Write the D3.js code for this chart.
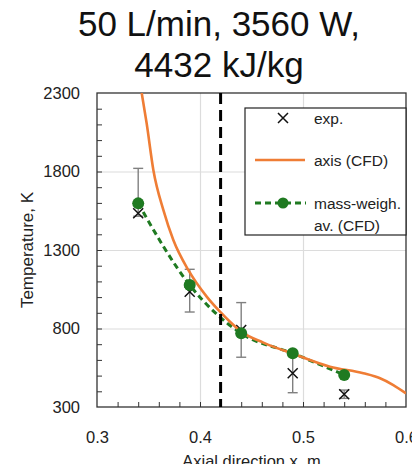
<!DOCTYPE html>
<html>
<head>
<meta charset="utf-8">
<script src="https://cdn.jsdelivr.net/npm/d3@7"></script>
<style>
  html, body { margin: 0; padding: 0; background: #fff; }
  svg { display: block; }
  text { font-family: "Liberation Sans", Arial, sans-serif; fill: #222; }
</style>
</head>
<body>
<svg id="chart" width="412" height="464"></svg>
<script>
// ---- data ----
const titleLines = ["50 L/min, 3560 W,", "4432 kJ/kg"];
const xTickValues = [0.3, 0.4, 0.5, 0.6];
const yTickValues = [300, 800, 1300, 1800, 2300];
const expX = [0.34, 0.39, 0.44, 0.49, 0.54];
const expT = [1534, 1034, 791, 515, 381];
const expErrHigh = [1820, 1177, 965, 643, 408];
const expErrLow = [1515, 905, 617, 391, 355];
const massX = [0.34, 0.39, 0.44, 0.49, 0.54];
const massT = [1597, 1077, 769, 642, 504];
const axisX = [0.3434, 0.3482, 0.3547, 0.3644, 0.3741, 0.3886, 0.4065, 0.4194, 0.4291, 0.44, 0.4615, 0.4939, 0.5262, 0.5586, 0.5748, 0.5877, 0.6];
const axisT = [2300, 2107, 1810, 1555, 1364, 1173, 1003, 907, 843, 780, 710, 631, 557, 515, 483, 440, 387];
const markerLineX = 0.42;
const legendLabels = ["exp.", "axis (CFD)", ["mass-weigh.", "av. (CFD)"]];
const xLabel = "Axial direction x, m";
const yLabel = "Temperature, K";

// ---- layout ----
const svg = d3.select("#chart");
const L = 97, R = 406, T = 93, B = 407;
const x = d3.scaleLinear().domain([0.3, 0.6]).range([L, R]);
const y = d3.scaleLinear().domain([300, 2300]).range([B, T]);
const orange = "#EF7D35", green = "#1F7A21";

// title
svg.append("g").selectAll("text").data(titleLines).join("text")
  .attr("x", 219).attr("y", (d, i) => 36 + i * 41)
  .attr("text-anchor", "middle").style("font-size", "35px").style("fill", "#111")
  .text(d => d);

// clip
svg.append("defs").append("clipPath").attr("id", "clip")
  .append("rect").attr("x", L).attr("y", T).attr("width", R - L).attr("height", B - T);

// grid
svg.append("g").attr("transform", `translate(0,${B})`)
  .call(d3.axisBottom(x).tickValues([0.4, 0.5]).tickSize(-(B - T)).tickFormat(""))
  .call(g => g.select(".domain").remove())
  .call(g => g.selectAll("line").attr("stroke", "#dcdcdc").attr("stroke-width", 1.2));
svg.append("g").attr("transform", `translate(${L},0)`)
  .call(d3.axisLeft(y).tickValues([800, 1300, 1800]).tickSize(-(R - L)).tickFormat(""))
  .call(g => g.select(".domain").remove())
  .call(g => g.selectAll("line").attr("stroke", "#dcdcdc").attr("stroke-width", 1.2));

// minor ticks (inward)
const xMinor = d3.range(0.32, 0.6, 0.02);
const yMinor = d3.range(400, 2300, 100);
svg.append("g").attr("transform", `translate(0,${B})`)
  .call(d3.axisBottom(x).tickValues(xMinor).tickSize(-5).tickFormat(""))
  .call(g => g.select(".domain").remove())
  .call(g => g.selectAll("line").attr("stroke", "#333"));
svg.append("g").attr("transform", `translate(${L},0)`)
  .call(d3.axisLeft(y).tickValues(yMinor).tickSize(-5).tickFormat(""))
  .call(g => g.select(".domain").remove())
  .call(g => g.selectAll("line").attr("stroke", "#333"));

// major axes with labels
svg.append("g").attr("transform", `translate(0,${B})`)
  .call(d3.axisBottom(x).tickValues(xTickValues).tickSize(0).tickPadding(24).tickFormat(d3.format(".1f")))
  .call(g => g.select(".domain").remove())
  .call(g => g.selectAll("text").style("font-size", "16.5px").style("font-family", "Liberation Sans, Arial, sans-serif").attr("fill", "#222"));
svg.append("g").attr("transform", `translate(${L},0)`)
  .call(d3.axisLeft(y).tickValues(yTickValues).tickSize(0).tickPadding(17).tickFormat(d3.format("d")))
  .call(g => g.select(".domain").remove())
  .call(g => g.selectAll("text").style("font-size", "16.5px").style("font-family", "Liberation Sans, Arial, sans-serif").attr("fill", "#222"));

// frame
svg.append("rect").attr("x", L).attr("y", T).attr("width", R - L).attr("height", B - T)
  .attr("fill", "none").attr("stroke", "#333").attr("stroke-width", 1.3);

// axis labels
svg.append("text").attr("x", (L + R) / 2).attr("y", 467).attr("text-anchor", "middle")
  .style("font-size", "16.5px").text(xLabel);
svg.append("text").attr("transform", "translate(33,250) rotate(-90)").attr("text-anchor", "middle")
  .style("font-size", "17px").text(yLabel);

const plot = svg.append("g").attr("clip-path", "url(#clip)");

// error bars
const eb = plot.append("g").attr("stroke", "#808080").attr("stroke-width", 1.4);
expX.forEach((xv, i) => {
  eb.append("line").attr("x1", x(xv)).attr("x2", x(xv)).attr("y1", y(expErrLow[i])).attr("y2", y(expErrHigh[i]));
  [expErrLow[i], expErrHigh[i]].forEach(v => {
    eb.append("line").attr("x1", x(xv) - 5).attr("x2", x(xv) + 5).attr("y1", y(v)).attr("y2", y(v));
  });
});

// exp markers (X)
const xm = plot.append("g").attr("stroke", "#111").attr("stroke-width", 1.5);
expX.forEach((xv, i) => {
  const cx = x(xv), cy = y(expT[i]), s = 5;
  xm.append("path").attr("d", `M${cx - s},${cy - s}L${cx + s},${cy + s}M${cx - s},${cy + s}L${cx + s},${cy - s}`);
});

// green dashed line
plot.append("path")
  .datum(massX.map((d, i) => [d, massT[i]]))
  .attr("fill", "none").attr("stroke", green).attr("stroke-width", 3).attr("stroke-dasharray", "6,4")
  .attr("d", d3.line().x(d => x(d[0])).y(d => y(d[1])).curve(d3.curveMonotoneX));

// orange axis curve
plot.append("path")
  .datum(axisX.map((d, i) => [d, axisT[i]]))
  .attr("fill", "none").attr("stroke", orange).attr("stroke-width", 2.6)
  .attr("d", d3.line().x(d => x(d[0])).y(d => y(d[1])).curve(d3.curveMonotoneX));

// green dots
plot.append("g").selectAll("circle").data(massX).join("circle")
  .attr("cx", d => x(d)).attr("cy", (d, i) => y(massT[i])).attr("r", 6).attr("fill", green);

// dashed vertical line
svg.append("line").attr("x1", x(markerLineX)).attr("x2", x(markerLineX)).attr("y1", T).attr("y2", B)
  .attr("stroke", "#000").attr("stroke-width", 3).attr("stroke-dasharray", "11,6");

// legend
const lg = svg.append("g");
lg.append("rect").attr("x", 245).attr("y", 108).attr("width", R - 245).attr("height", 127)
  .attr("fill", "#fff").attr("stroke", "#222").attr("stroke-width", 1.2);
const lx = 283;
lg.append("path").attr("d", `M${lx - 5},${118 - 5}L${lx + 5},${118 + 5}M${lx - 5},${118 + 5}L${lx + 5},${118 - 5}`)
  .attr("stroke", "#111").attr("stroke-width", 1.5);
lg.append("line").attr("x1", 255).attr("x2", 305).attr("y1", 160).attr("y2", 160)
  .attr("stroke", orange).attr("stroke-width", 2.6);
lg.append("line").attr("x1", 255).attr("x2", 306).attr("y1", 203).attr("y2", 203)
  .attr("stroke", green).attr("stroke-width", 3).attr("stroke-dasharray", "6,4");
lg.append("circle").attr("cx", lx).attr("cy", 203).attr("r", 5.5).attr("fill", green);
const tx = 314;
lg.append("text").attr("x", tx).attr("y", 123.5).style("font-size", "15.5px").text(legendLabels[0]);
lg.append("text").attr("x", tx).attr("y", 165.5).style("font-size", "15.5px").text(legendLabels[1]);
lg.append("text").attr("x", tx).attr("y", 208.5).style("font-size", "15.5px").text(legendLabels[2][0]);
lg.append("text").attr("x", tx).attr("y", 230.5).style("font-size", "15.5px").text(legendLabels[2][1]);
</script>
</body>
</html>
